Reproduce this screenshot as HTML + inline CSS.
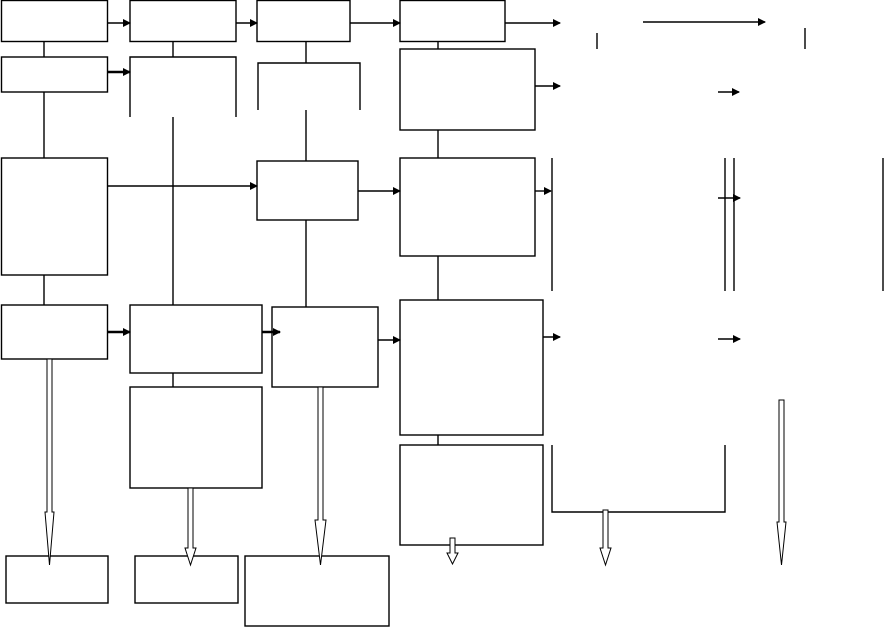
<!DOCTYPE html>
<html><head><meta charset="utf-8"><style>html,body{margin:0;padding:0;background:#fff}svg{display:block}</style></head>
<body>
<svg width="884" height="627" viewBox="0 0 884 627" xmlns="http://www.w3.org/2000/svg">
<defs>
<marker id="a" markerWidth="8" markerHeight="8" refX="7" refY="4" orient="auto" markerUnits="userSpaceOnUse"><path d="M0,0 L8,4 L0,8 z" fill="#000"/></marker>
</defs>
<g fill="none" stroke="#000" stroke-width="1.4">
<!-- boxes -->
<rect x="1.5" y="0.5" width="106" height="41"/>
<rect x="130" y="0.5" width="106" height="41"/>
<rect x="257" y="0.5" width="93" height="41"/>
<rect x="400" y="0.5" width="105" height="41"/>
<rect x="1.5" y="57" width="106" height="35"/>
<rect x="400" y="49" width="135" height="81"/>
<rect x="1.5" y="158" width="106" height="117"/>
<rect x="257" y="161" width="101" height="59"/>
<rect x="400" y="158" width="135" height="98"/>
<rect x="1.5" y="305" width="106" height="54"/>
<rect x="130" y="305" width="132" height="68"/>
<rect x="272" y="307" width="106" height="80"/>
<rect x="400" y="300" width="143" height="135"/>
<rect x="130" y="387" width="132" height="101"/>
<rect x="400" y="445" width="143" height="100"/>
<rect x="6" y="556" width="102" height="47"/>
<rect x="135" y="556" width="103" height="47"/>
<rect x="245" y="556" width="144" height="70"/>
<!-- brackets -->
<polyline points="130,117 130,57 236,57 236,117"/>
<polyline points="258,110 258,63 360,63 360,110"/>
<polyline points="552,445 552,512 725,512 725,445"/>
<!-- connectors -->
<line x1="44" y1="41" x2="44" y2="57"/>
<line x1="173" y1="41" x2="173" y2="57"/>
<line x1="306" y1="41" x2="306" y2="63"/>
<line x1="438" y1="41" x2="438" y2="49"/>
<line x1="44" y1="92" x2="44" y2="158"/>
<line x1="173" y1="117" x2="173" y2="305"/>
<line x1="306" y1="110" x2="306" y2="161"/>
<line x1="438" y1="130" x2="438" y2="158"/>
<line x1="44" y1="275" x2="44" y2="305"/>
<line x1="306" y1="220" x2="306" y2="307"/>
<line x1="438" y1="256" x2="438" y2="300"/>
<line x1="173" y1="373" x2="173" y2="387"/>
<line x1="438" y1="435" x2="438" y2="445"/>
<line x1="597" y1="33" x2="597" y2="49"/>
<line x1="805" y1="28" x2="805" y2="49"/>
<line x1="552" y1="158" x2="552" y2="291"/>
<line x1="725" y1="158" x2="725" y2="291"/>
<line x1="734" y1="158" x2="734" y2="291"/>
<line x1="883" y1="158" x2="883" y2="291"/>
<!-- arrows -->
<g marker-end="url(#a)">
<line x1="108" y1="23" x2="130" y2="23"/>
<line x1="236" y1="23" x2="257" y2="23"/>
<line x1="350" y1="23" x2="400" y2="23"/>
<line x1="505" y1="23" x2="560" y2="23"/>
<line x1="643" y1="22" x2="765" y2="22"/>
<line x1="108" y1="72" x2="130" y2="72" stroke-width="2.5"/>
<line x1="535" y1="86" x2="560" y2="86"/>
<line x1="718" y1="92" x2="739" y2="92"/>
<line x1="108" y1="186" x2="257" y2="186"/>
<line x1="358" y1="191" x2="400" y2="191"/>
<line x1="535" y1="191" x2="551" y2="191"/>
<line x1="718" y1="198" x2="740" y2="198"/>
<line x1="108" y1="332" x2="130" y2="332" stroke-width="2.5"/>
<line x1="262" y1="332" x2="280" y2="332" stroke-width="2.5"/>
<line x1="378" y1="340" x2="400" y2="340"/>
<line x1="543" y1="337" x2="560" y2="337"/>
<line x1="718" y1="339" x2="740" y2="339"/>
</g>
</g>
<!-- hollow arrows -->
<g fill="#fff" stroke="#000" stroke-width="1">
<path d="M47,359 L52,359 L52,512 L54,512 L49.5,565 L45,512 L47,512 Z"/>
<path d="M188,488 L193,488 L193,548 L196,548 L190.5,565 L185,548 L188,548 Z"/>
<path d="M318,387 L323,387 L323,520 L326,520 L320.5,565 L315,520 L318,520 Z"/>
<path d="M450,538 L455,538 L455,553 L458,553 L452.5,564 L447,553 L450,553 Z"/>
<path d="M603,510 L608,510 L608,548 L611,548 L605.5,565 L600,548 L603,548 Z"/>
<path d="M779,400 L784,400 L784,522 L786,522 L781.5,565 L777,522 L779,522 Z"/>
</g>
</svg>
</body></html>
